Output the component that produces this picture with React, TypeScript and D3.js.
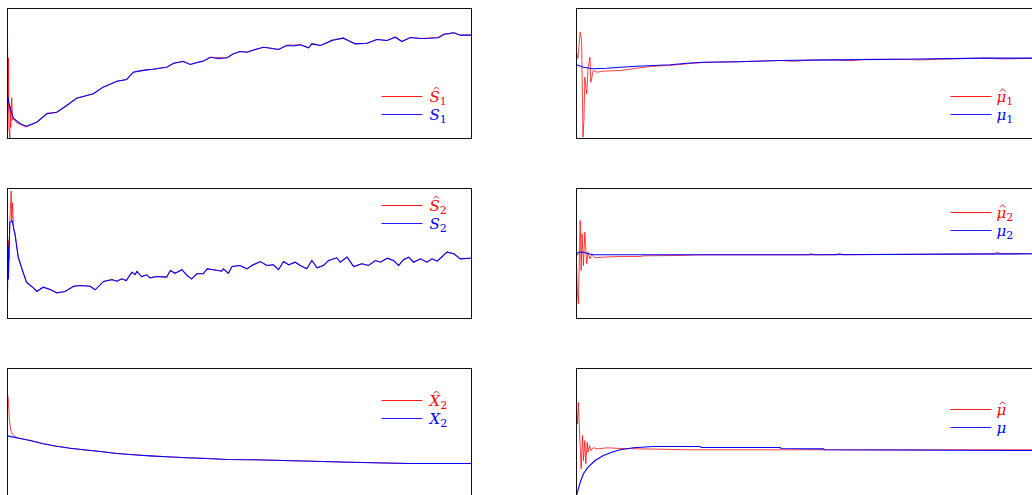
import React from "react";
import * as d3 from "d3";

type Pt = [number, number];

// ---- Data (t = iteration 0..1000, v = value in arbitrary units 0..100) ----
const s1Est: Pt[] = [[0,83.8],[1,20],[2,62],[3,8],[5,0],[6,25],[7,8.5],[9,31.5],[11,14],[13,15.4],[20,12],[27,11],[40,8.8],[63,12.5],[85,19.5],[106,20],[128,25.8],[149,31],[185,34.4],[206,39.5],[236,44.1],[257,45.4],[271,51],[300,52.8],[314,53.3],[343,54.8],[358,57.9],[379,59.5],[394,56.9],[422,59.5],[437,62.5],[473,62.1],[487,65.2],[501,66.9],[516,66.4],[552,70.2],[584,68.5],[602,71.8],[631,72.1],[649,69.8],[656,73.3],[674,71.5],[699,75.8],[724,77.4],[750,72.8],[775,73.3],[796,76.2],[818,75.4],[836,78.2],[850,74.6],[868,77.7],[890,76.9],[929,77.9],[940,80.3],[962,81.3],[976,79.5],[1000,79.5]];
const s1True: Pt[] = [[0,33.1],[5,23.8],[13,15.4],[27,11.5],[40,9.5],[63,12.5],[85,19],[106,20.2],[128,25.4],[149,31],[165,32.5],[185,34.4],[206,39.5],[220,41.5],[236,44.1],[257,45.4],[271,51],[285,52],[300,52.8],[314,53.3],[330,54.2],[343,54.8],[358,57.9],[379,59.2],[394,56.9],[410,58.6],[422,59.5],[437,62.5],[455,61.4],[473,62.1],[487,65.2],[501,66.9],[516,66.4],[535,68.6],[552,70.2],[568,69.4],[584,68.5],[602,71.5],[616,71.2],[631,72.1],[649,69.8],[656,72.8],[674,71.5],[688,73.4],[699,75.4],[712,76.3],[724,77.2],[738,74.6],[750,72.8],[775,73.3],[796,76.2],[818,75.4],[836,77.9],[850,74.6],[868,77.7],[890,76.9],[910,77.1],[929,77.5],[940,80],[962,81.3],[976,79.5],[1000,79.5]];

const s2Est: Pt[] = [[0,40],[2,60],[3,45],[5,75],[8,98],[9,75],[11,89],[13,68],[16,66],[23,48],[31,38.8],[41,27.5],[56,23.2],[63,20.8],[77,24.1],[92,22.3],[106,19.5],[124,20.8],[142,24.9],[156,25.4],[178,24.8],[189,22.1],[207,28.5],[225,30.2],[236,28.7],[246,30.5],[256,29.2],[268,35.9],[275,33.5],[279,36.2],[289,32],[300,33.6],[307,31.3],[322,32.3],[343,31.8],[351,37.2],[361,34.8],[376,37.5],[387,33.1],[397,30.1],[408,34.4],[422,34.7],[430,38.2],[444,37.5],[462,36.4],[465,38.2],[476,34.5],[484,40],[501,40.8],[516,38.2],[527,41.2],[545,43.8],[559,40.8],[573,41.3],[584,37.5],[595,43.8],[606,41.3],[620,43.3],[631,40.8],[645,38.2],[656,44.6],[667,39],[681,40.8],[692,44.6],[710,46.7],[717,43.3],[732,47.2],[746,40],[764,42.1],[778,40.8],[793,44.6],[804,43.3],[818,46.4],[832,44.6],[843,40.5],[854,45.4],[865,47.2],[875,43.3],[890,45.9],[904,43.3],[915,45.9],[926,44.1],[937,47.7],[947,51.3],[962,49.8],[976,45.9],[998,46.4],[1000,46.4]];
const s2True: Pt[] = [[0,19],[1,56],[2,30],[4,60],[5,74],[10,75],[16,65.2],[23,47.2],[31,38.2],[41,27.9],[56,23.6],[63,20.8],[77,24.1],[92,22.3],[106,19.8],[124,20.8],[142,24.6],[156,25.4],[178,24.8],[189,22.1],[207,28.5],[225,29.8],[236,28.7],[246,30.5],[256,29.2],[268,35.6],[275,33.8],[279,36.2],[289,32.3],[300,33.6],[307,31.3],[322,32.3],[343,31.8],[351,36.9],[361,34.8],[376,37.5],[387,33.1],[397,30.5],[408,34.4],[422,34.4],[430,38.2],[444,37.5],[462,36.4],[465,38.2],[476,34.8],[484,40],[501,40.8],[516,38.2],[527,40.8],[545,43.8],[559,40.8],[573,41.3],[584,37.5],[595,43.8],[606,41.3],[620,43.3],[631,40.8],[645,38.2],[656,44.6],[667,39],[681,40.8],[692,44.6],[710,46.7],[717,43.3],[732,47.2],[746,40],[764,42.1],[778,40.8],[793,44.6],[804,43.3],[818,46.4],[832,44.6],[843,40.8],[854,45.4],[865,47.2],[875,43.3],[890,45.9],[904,43.3],[915,45.9],[926,44.1],[937,47.7],[947,51],[962,49.8],[976,45.9],[998,46.4],[1000,46.4]];

const x2Est: Pt[] = [[0,80.5],[2,75.4],[4,61.3],[7,52.3],[11,49.2],[16,47.7],[23,46.5],[27,46.2],[49,44.6],[77,42.1],[106,40.2],[135,38.7],[164,37.5],[200,36.2],[236,34.6],[271,33.6],[307,32.8],[343,32.1],[387,31.3],[430,30.8],[473,30],[530,29.8],[617,29],[739,27.9],[865,26.9],[1000,26.9]];
const x2True: Pt[] = [[0,48.2],[13,47.2],[27,46.2],[49,44.6],[77,42.1],[106,40.2],[135,38.7],[164,37.5],[200,36.2],[236,34.6],[271,33.6],[307,32.8],[343,32.1],[387,31.3],[430,30.8],[473,30],[530,29.8],[617,29],[739,27.9],[865,26.9],[1000,26.9]];

const mu1Est: Pt[] = [[0,66.4],[3,61.5],[8,81.8],[11,75.4],[14,1],[16,13.8],[18,47.2],[22,34.4],[25,54.8],[29,62.5],[31,43.3],[36,52.3],[44,51],[58,51.8],[94,52.3],[130,54.1],[166,55.6],[202,56.2],[238,57.5],[274,58.5],[346,59],[439,60],[470,59.4],[500,60.3],[553,60.5],[590,59.8],[620,60.9],[698,61],[740,60.4],[780,61],[881,61.8],[920,61.2],[1000,61.8]];
const mu1True: Pt[] = [[0,56.7],[15,54.8],[36,53.6],[65,54],[94,54.8],[130,55.6],[202,56.7],[238,57.9],[274,58.7],[346,59],[439,60],[553,60.5],[698,61],[881,61.8],[1000,61.8]];

const mu2Est: Pt[] = [[0,42.1],[2,19.2],[4,11.3],[8,75.4],[10,36.9],[12,65.2],[15,40.8],[18,66.4],[22,42.1],[25,51],[29,45.9],[33,49.2],[40,46.7],[58,47.2],[94,47.7],[137,47.7],[144,48.2],[223,48.5],[266,49],[500,49],[506,50],[512,49],[560,49],[566,50],[575,49],[900,49.8],[906,50.8],[915,49.8],[1000,49.8]];
const mu2True: Pt[] = [[0,48.5],[4,51],[15,51],[26,49.8],[36,49],[504,49],[1000,49.8]];

const muEst: Pt[] = [[0,67.7],[2,57.5],[4,74],[8,39.5],[10,22.8],[13,48.5],[15,29.2],[18,44.6],[20,26.7],[23,43.3],[25,35.6],[28,40.8],[31,36.9],[36,39],[47,38.2],[65,39],[94,38.5],[137,38.2],[238,37.5],[1000,37.5]];
const muTrue: Pt[] = [[0,2.3],[8,12.5],[15,19],[25,24.1],[40,29.2],[58,33.1],[76,35.6],[94,37.5],[123,39],[166,40],[266,40],[269,39.2],[439,39.2],[441,38.5],[532,38.2],[534,37.5],[1000,36.9]];

const legendNames = ["S", "S", "X", "μ", "μ", "μ"];
const legendSubs = ["1", "2", "2", "1", "2", ""];

// ---- Layout ----
const W = 1032, H = 495;
const PW = 464, PH = 130;
const colX = [7.5, 576.5];
const rowY = [8.5, 188.5, 368.5];

interface PanelSpec {
  col: number; row: number; est: Pt[]; tru: Pt[]; name: string; sub: string;
  legendY: number; legendX: number;
}

const panels: PanelSpec[] = [
  { col: 0, row: 0, est: s1Est, tru: s1True, name: legendNames[0], sub: legendSubs[0], legendY: 88, legendX: 374 },
  { col: 0, row: 1, est: s2Est, tru: s2True, name: legendNames[1], sub: legendSubs[1], legendY: 17, legendX: 374 },
  { col: 0, row: 2, est: x2Est, tru: x2True, name: legendNames[2], sub: legendSubs[2], legendY: 32, legendX: 374 },
  { col: 1, row: 0, est: mu1Est, tru: mu1True, name: legendNames[3], sub: legendSubs[3], legendY: 88, legendX: 374 },
  { col: 1, row: 1, est: mu2Est, tru: mu2True, name: legendNames[4], sub: legendSubs[4], legendY: 24, legendX: 374 },
  { col: 1, row: 2, est: muEst, tru: muTrue, name: legendNames[5], sub: legendSubs[5], legendY: 41, legendX: 374 },
];

const xScale = d3.scaleLinear().domain([0, 1000]).range([0, PW]);
const yScale = d3.scaleLinear().domain([0, 100]).range([PH, 0]);
const line = d3.line<Pt>().x(d => xScale(d[0])).y(d => yScale(d[1]));

function Label({ x, y, color, base, hat, sub }: { x: number; y: number; color: string; base: string; hat: boolean; sub: string }) {
  const isMu = base === "μ";
  const hx = isMu ? x + 3.5 : x + 4.2;
  const hTop = isMu ? y - 12.8 : y - 14.6;
  const hBot = isMu ? y - 10 : y - 12;
  return (
    <g>
      <text x={x} y={y} fill={color} fontFamily="'DejaVu Serif', serif" fontStyle="italic" fontSize={15}>
        {base}
        {sub ? <tspan dy={3.5} fontStyle="normal" fontSize={11}>{sub}</tspan> : null}
      </text>
      {hat ? (
        <path d={`M${hx},${hBot} L${hx + 2.6},${hTop} L${hx + 5.2},${hBot}`} fill="none" stroke={color} strokeWidth={0.9} />
      ) : null}
    </g>
  );
}

function Panel({ p }: { p: PanelSpec }) {
  const x0 = colX[p.col], y0 = rowY[p.row];
  const ly = p.legendY;
  const lx = p.legendX;
  const tx = lx + (p.col === 1 ? 46 : 48);
  return (
    <g transform={`translate(${x0},${y0})`}>
      <defs>
        <clipPath id={`clip-${p.col}-${p.row}`}>
          <rect x={0} y={0} width={PW} height={PH} />
        </clipPath>
      </defs>
      <g clipPath={`url(#clip-${p.col}-${p.row})`}>
        <path d={line(p.est) || ""} fill="none" stroke="#ff0000" strokeWidth={0.75} />
        <path d={line(p.tru) || ""} fill="none" stroke="#0000ff" strokeWidth={1.1} />
      </g>
      <rect x={0} y={0} width={PW} height={PH} fill="none" stroke="#111" strokeWidth={1} />
      <line x1={lx} x2={lx + 41} y1={ly} y2={ly} stroke="#ff0000" strokeWidth={0.9} />
      <line x1={lx} x2={lx + 41} y1={ly + 18} y2={ly + 18} stroke="#0000ff" strokeWidth={0.9} />
      <Label x={tx} y={ly + 5} color="#ff0000" base={p.name} hat={true} sub={p.sub} />
      <Label x={tx} y={ly + 23} color="#0000ff" base={p.name} hat={false} sub={p.sub} />
    </g>
  );
}

export default function App() {
  return (
    <svg width={W} height={H} style={{ position: "absolute", left: 0, top: 0, background: "#fff" }}>
      <rect x={0} y={0} width={W} height={H} fill="#fff" />
      {panels.map((p, i) => <Panel key={i} p={p} />)}
    </svg>
  );
}
